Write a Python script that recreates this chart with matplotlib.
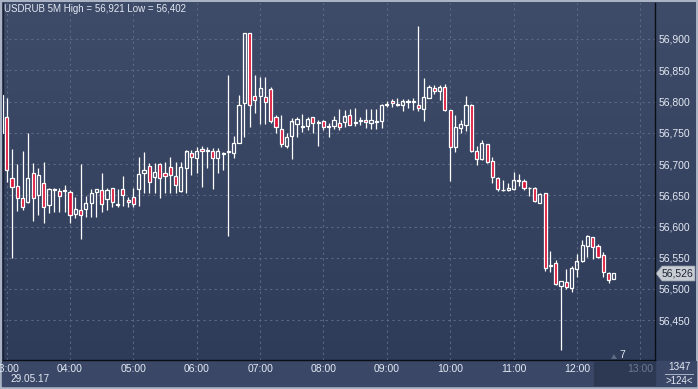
import numpy as np
import matplotlib.pyplot as plt
from matplotlib.colors import LinearSegmentedColormap
from matplotlib.patches import Rectangle, Polygon

# ==========================================
# DATA: USDRUB 5M candles, 02:55 .. 12:35
# ==========================================
opens = [56750, 56775, 56678, 56664, 56645, 56639, 56685, 56650, 56669, 56634,
         56658, 56657, 56657, 56655, 56620, 56626, 56628, 56638, 56656, 56658,
         56644, 56661, 56635, 56660, 56642, 56647, 56660, 56685, 56697, 56680,
         56700, 56685, 56695, 56680, 56657, 56693, 56717, 56709, 56724, 56721,
         56721, 56709, 56716, 56719, 56717, 56734, 56797, 56909, 56809, 56809,
         56807, 56820, 56775, 56756, 56729, 56745, 56764, 56761, 56761, 56775,
         56766, 56768, 56760, 56761, 56765, 56767, 56779, 56766, 56769, 56770,
         56765, 56767, 56769, 56794, 56801, 56795, 56795, 56799, 56799, 56794,
         56788, 56806, 56821, 56817, 56823, 56786, 56728, 56757, 56762, 56794,
         56721, 56708, 56732, 56705, 56677, 56658, 56658, 56660, 56673, 56672,
         56661, 56661, 56638, 56653, 56537, 56541, 56505, 56512, 56501, 56532,
         56545, 56569, 56583, 56569, 56554, 56526, 56516]
highs = [56813, 56805, 56724, 56700, 56721, 56750, 56702, 56694, 56704, 56661,
         56662, 56662, 56667, 56658, 56648, 56700, 56649, 56660, 56660, 56685,
         56661, 56662, 56660, 56681, 56647, 56661, 56712, 56719, 56702, 56702,
         56702, 56703, 56711, 56703, 56704, 56722, 56722, 56728, 56729, 56727,
         56726, 56725, 56720, 56842, 56745, 56810, 56909, 56909, 56842, 56840,
         56840, 56824, 56778, 56778, 56750, 56773, 56776, 56780, 56776, 56776,
         56770, 56770, 56765, 56777, 56788, 56786, 56788, 56789, 56775, 56788,
         56788, 56788, 56796, 56801, 56804, 56805, 56804, 56804, 56806, 56921,
         56837, 56826, 56826, 56826, 56828, 56786, 56778, 56770, 56809, 56796,
         56729, 56738, 56732, 56711, 56680, 56674, 56669, 56687, 56684, 56676,
         56663, 56663, 56654, 56654, 56561, 56546, 56513, 56532, 56537, 56556,
         56579, 56586, 56584, 56572, 56560, 56528, 56526]
lows = [56747, 56672, 56550, 56625, 56626, 56638, 56609, 56619, 56606, 56621,
        56624, 56624, 56624, 56606, 56613, 56580, 56615, 56615, 56615, 56624,
        56626, 56631, 56631, 56633, 56632, 56631, 56633, 56654, 56654, 56654,
        56645, 56654, 56654, 56654, 56656, 56653, 56683, 56686, 56664, 56693,
        56660, 56686, 56690, 56585, 56710, 56734, 56743, 56759, 56781, 56764,
        56764, 56765, 56750, 56727, 56725, 56708, 56743, 56752, 56754, 56750,
        56729, 56754, 56744, 56756, 56754, 56759, 56762, 56761, 56762, 56757,
        56756, 56756, 56757, 56791, 56791, 56793, 56785, 56790, 56786, 56785,
        56769, 56805, 56812, 56802, 56785, 56673, 56720, 56749, 56753, 56720,
        56698, 56706, 56702, 56670, 56657, 56657, 56657, 56658, 56665, 56658,
        56649, 56639, 56637, 56529, 56528, 56506, 56402, 56500, 56496, 56519,
        56544, 56552, 56548, 56549, 56519, 56509, 56516]
closes = [56810, 56690, 56663, 56645, 56631, 56677, 56645, 56683, 56631, 56660,
          56660, 56649, 56659, 56618, 56628, 56618, 56637, 56653, 56660, 56636,
          56658, 56640, 56636, 56651, 56639, 56636, 56684, 56690, 56671, 56687,
          56677, 56681, 56682, 56666, 56695, 56720, 56711, 56721, 56721, 56722,
          56709, 56721, 56717, 56720, 56733, 56795, 56909, 56795, 56802, 56821,
          56799, 56769, 56759, 56732, 56743, 56768, 56772, 56759, 56772, 56765,
          56767, 56759, 56761, 56770, 56759, 56776, 56763, 56767, 56770, 56767,
          56770, 56768, 56795, 56796, 56797, 56796, 56800, 56800, 56800, 56790,
          56807, 56823, 56817, 56823, 56786, 56727, 56759, 56764, 56795, 56721,
          56708, 56733, 56704, 56679, 56660, 56659, 56661, 56674, 56674, 56662,
          56662, 56641, 56652, 56534, 56539, 56508, 56513, 56503, 56533, 56544,
          56570, 56585, 56567, 56552, 56527, 56514, 56526]

hour_labels = ['03:00', '04:00', '05:00', '06:00', '07:00', '08:00',
               '09:00', '10:00', '11:00', '12:00', '13:00']
hour_index = [1, 13, 25, 37, 49, 61, 73, 85, 97, 109, 121]
price_ticks = [56450, 56500, 56550, 56600, 56650, 56700, 56750, 56800, 56850, 56900]

title_text = 'USDRUB 5M High = 56,921 Low = 56,402'
date_text = '29.05.17'
last_price = '56,526'

# ==========================================
# FIGURE
# ==========================================
W, H = 698, 389
plt.rcParams['font.family'] = ['Liberation Sans', 'DejaVu Sans']
fig = plt.figure(figsize=(W / 100, H / 100), dpi=100)
fig.patch.set_facecolor('#a9b3c4')

TXT = '#e3e9f3'
RED = '#dc1438'
GRID = '#5b6984'


def px(x0, y0, w, h):
    # pixel box (from top-left) -> figure fraction rect
    return [x0 / W, 1 - (y0 + h) / H, w / W, h / H]


# background layer in pixel coordinates (y down)
bg = fig.add_axes([0, 0, 1, 1])
bg.set_axis_off()
bg.set_xlim(0, W)
bg.set_ylim(H, 0)
grad = np.linspace(0, 1, 256).reshape(-1, 1)
cmap = LinearSegmentedColormap.from_list('bg', ['#3f4c69', '#2d3a58'])
bg.imshow(grad, cmap=cmap, aspect='auto', extent=[2, 696, 387, 2], origin='upper')
bg.add_patch(Rectangle((2, 361), 694, 25, color='#3a4766', zorder=2))
bg.add_patch(Rectangle((594, 362), 61, 23, color='#2d3953', zorder=3))
bg.add_patch(Polygon([(656, 273.5), (662, 266), (695, 266), (695, 281), (662, 281)],
                     closed=True, facecolor='#c8ccd3', edgecolor='#8a93a5', lw=0.5, zorder=3))
bg.add_patch(Polygon([(611, 359), (617, 359), (614, 354)], closed=True,
                     facecolor='#5e6a83', zorder=3))
bg.plot([665, 693], [374, 374], color='#aab4c6', lw=0.7, zorder=3)
bg.set_xlim(0, W)
bg.set_ylim(H, 0)

ax = fig.add_axes(px(3, 3, 652, 357))
ax.set_facecolor('none')

n = len(opens)
idx = np.arange(n)
o = np.array(opens)
hi = np.array(highs)
lo = np.array(lows)
c = np.array(closes)
top = np.maximum(o, c)
bot = np.minimum(o, c)
up = c >= o

# wicks only outside the bodies
ax.vlines(idx, top, hi, color='white', lw=0.9, zorder=2)
ax.vlines(idx, lo, bot, color='white', lw=0.9, zorder=2)

body_h = np.maximum(top - bot, 1.2)
ax.bar(idx[up], body_h[up], bottom=bot[up], width=0.6,
       facecolor='none', edgecolor='white', linewidth=0.9, zorder=3)
ax.bar(idx[~up], body_h[~up], bottom=bot[~up], width=0.6,
       facecolor=RED, edgecolor='white', linewidth=0.9, zorder=3)

ax.set_xlim(0.3, 123.8)
ax.set_ylim(56386.4, 56957.6)

ax.set_yticks(price_ticks)
ax.set_yticklabels([f'{p:,}' for p in price_ticks])
ax.yaxis.tick_right()
ax.set_xticks(hour_index)
ax.set_xticklabels(hour_labels)
ax.tick_params(axis='both', length=0, colors=TXT, labelsize=7.5)
ax.tick_params(axis='y', pad=2.5)
ax.tick_params(axis='x', pad=3)
ax.get_xticklabels()[-1].set_color('#6d7891')

ax.grid(True, color=GRID, linestyle=(0, (2, 3)), linewidth=0.8)
ax.set_axisbelow(True)

ax.spines['top'].set_visible(False)
ax.spines['left'].set_color('#1c2233')
ax.spines['bottom'].set_color('#0a0d14')
ax.spines['right'].set_color('#0a0d14')
for side in ['left', 'bottom', 'right']:
    ax.spines[side].set_linewidth(1.0)

# title and date
fig.text(4 / W, 1 - 8.5 / H, title_text, color=TXT, fontsize=7.0, va='center', ha='left')
fig.text(10 / W, 1 - 379 / H, date_text, color=TXT, fontsize=7.2, va='center', ha='left')

# last price, counter box, marker
fig.text(662 / W, 1 - 273.5 / H, last_price, color='#1d2433', fontsize=7.5,
         va='center', ha='left')
fig.text(679 / W, 1 - 367 / H, '1347', color=TXT, fontsize=7.2, va='center', ha='center')
fig.text(679 / W, 1 - 381 / H, '>124<', color=TXT, fontsize=7.0, va='center', ha='center')
fig.text(619 / W, 1 - 355 / H, '7', color=TXT, fontsize=7.5, va='center', ha='left')

fig.savefig('out.png', dpi=100, facecolor=fig.get_facecolor())
